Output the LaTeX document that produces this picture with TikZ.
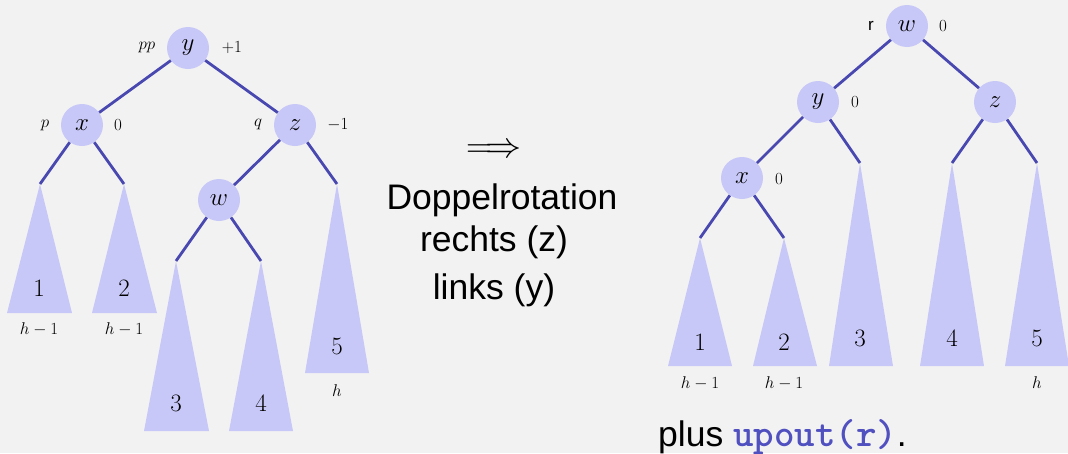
\RequirePackage{fix-cm}
\documentclass[tikz,border=0pt]{standalone}
\usepackage{fontspec}
\newfontfamily\sansf{Liberation Sans}
\definecolor{bg}{RGB}{242,242,242}
\definecolor{nodefill}{RGB}{200,200,248}
\definecolor{edgecol}{RGB}{72,72,176}
\definecolor{codecol}{RGB}{80,80,192}
\begin{document}
\begin{tikzpicture}[x=1pt,y=-1pt,
  tn/.style={circle,fill=nodefill,minimum size=42pt,inner sep=0pt,font=\fontsize{25}{30}\selectfont},
  edge/.style={draw=edgecol,line width=2.8pt},
  subtree/.style={fill=nodefill},
  lbl/.style={font=\fontsize{17}{20}\selectfont,inner sep=0pt},
  num/.style={font=\fontsize{25}{30}\selectfont,inner sep=0pt},
  big/.style={font=\sansf\fontsize{35.5}{40}\selectfont,inner sep=0pt}]
\useasboundingbox (0,0) rectangle (1068,453);
\fill[bg] (0,0) rectangle (1068,453);

% ---------- left tree: subtrees ----------
\coordinate (a1) at (40,184);
\coordinate (a2) at (124,184);
\coordinate (a3) at (176,261);
\coordinate (a4) at (261,261);
\coordinate (a5) at (337,184);
\fill[subtree] (a1) -- (7,313) -- (72,313) -- cycle;
\fill[subtree] (a2) -- (92,313) -- (157,313) -- cycle;
\fill[subtree] (a3) -- (144,431) -- (209,431) -- cycle;
\fill[subtree] (a4) -- (229,431) -- (293,431) -- cycle;
\fill[subtree] (a5) -- (305,373) -- (369,373) -- cycle;
\node[num] (n1) at (39,288) {$1$};
\node[num] (n2) at (124,288) {$2$};
\node[num] (n3) at (176,403) {$3$};
\node[num] (n4) at (261,403) {$4$};
\node[num] (n5) at (337,346) {$5$};
\node[lbl] (h1) at (39,329) {$h-1$};
\node[lbl] (h2) at (124,329) {$h-1$};
\node[lbl] (h5) at (337,391) {$h$};

% ---------- left tree: nodes ----------
\node[tn] (ly) at (188,48) {$y$};
\node[tn] (lx) at (82,125) {$x$};
\node[tn] (lz) at (295,125) {$z$};
\node[tn] (lw) at (219,200) {$w$};
\node[lbl] (lpp) at (147,47) {$pp$};
\node[lbl] (lyb) at (232,48) {$+1$};
\node[lbl] (lp) at (45,125) {$p$};
\node[lbl] (lxb) at (118,125) {$0$};
\node[lbl] (lq) at (258,124) {$q$};
\node[lbl] (lzb) at (338,125) {$-1$};

\draw[edge] (ly) -- (lx);
\draw[edge] (ly) -- (lz);
\draw[edge] (lx) -- (a1);
\draw[edge] (lx) -- (a2);
\draw[edge] (lz) -- (lw);
\draw[edge] (lz) -- (a5);
\draw[edge] (lw) -- (a3);
\draw[edge] (lw) -- (a4);

% ---------- middle text ----------
\node[inner sep=0pt,font=\fontsize{36}{40}\selectfont] (arr) at (494,151) {$\Longrightarrow$};
\node[big] (t1) at (502,200) {Doppelrotation};
\node[big] (t2) at (494,242) {rechts (z)};
\node[big] (t3) at (494,290) {links (y)};

% ---------- right tree: subtrees ----------
\coordinate (b1) at (700,238);
\coordinate (b2) at (784,238);
\coordinate (b3) at (860,163);
\coordinate (b4) at (952,163);
\coordinate (b5) at (1037,163);
\fill[subtree] (b1) -- (668,366) -- (732,366) -- cycle;
\fill[subtree] (b2) -- (753,366) -- (817,366) -- cycle;
\fill[subtree] (b3) -- (829,366) -- (893,366) -- cycle;
\fill[subtree] (b4) -- (920,366) -- (984,366) -- cycle;
\fill[subtree] (b5) -- (1005,366) -- (1069,366) -- cycle;
\node[num] (m1) at (700,342) {$1$};
\node[num] (m2) at (784,342) {$2$};
\node[num] (m3) at (860,338) {$3$};
\node[num] (m4) at (952,338) {$4$};
\node[num] (m5) at (1037,338) {$5$};
\node[lbl] (k1) at (700,383) {$h-1$};
\node[lbl] (k2) at (784,383) {$h-1$};
\node[lbl] (k5) at (1037,383) {$h$};

% ---------- right tree: nodes ----------
\node[tn] (rw) at (907,26) {$w$};
\node[tn] (ry) at (818,102) {$y$};
\node[tn] (rz) at (995,102) {$z$};
\node[tn] (rx) at (742,178) {$x$};
\node[lbl,font=\sansf\fontsize{17}{20}\selectfont] (rr) at (871,26) {r};
\node[lbl] (rwb) at (943,26) {$0$};
\node[lbl] (ryb) at (855,102) {$0$};
\node[lbl] (rxb) at (779,179) {$0$};

\draw[edge] (rw) -- (ry);
\draw[edge] (rw) -- (rz);
\draw[edge] (ry) -- (rx);
\draw[edge] (ry) -- (b3);
\draw[edge] (rx) -- (b1);
\draw[edge] (rx) -- (b2);
\draw[edge] (rz) -- (b4);
\draw[edge] (rz) -- (b5);

% ---------- bottom text ----------
\node[big,anchor=base west] (plus) at (658,446) {plus {\ttfamily\bfseries\fontsize{39}{42}\selectfont\color{codecol}upout(r)}.};
\end{tikzpicture}
\end{document}
